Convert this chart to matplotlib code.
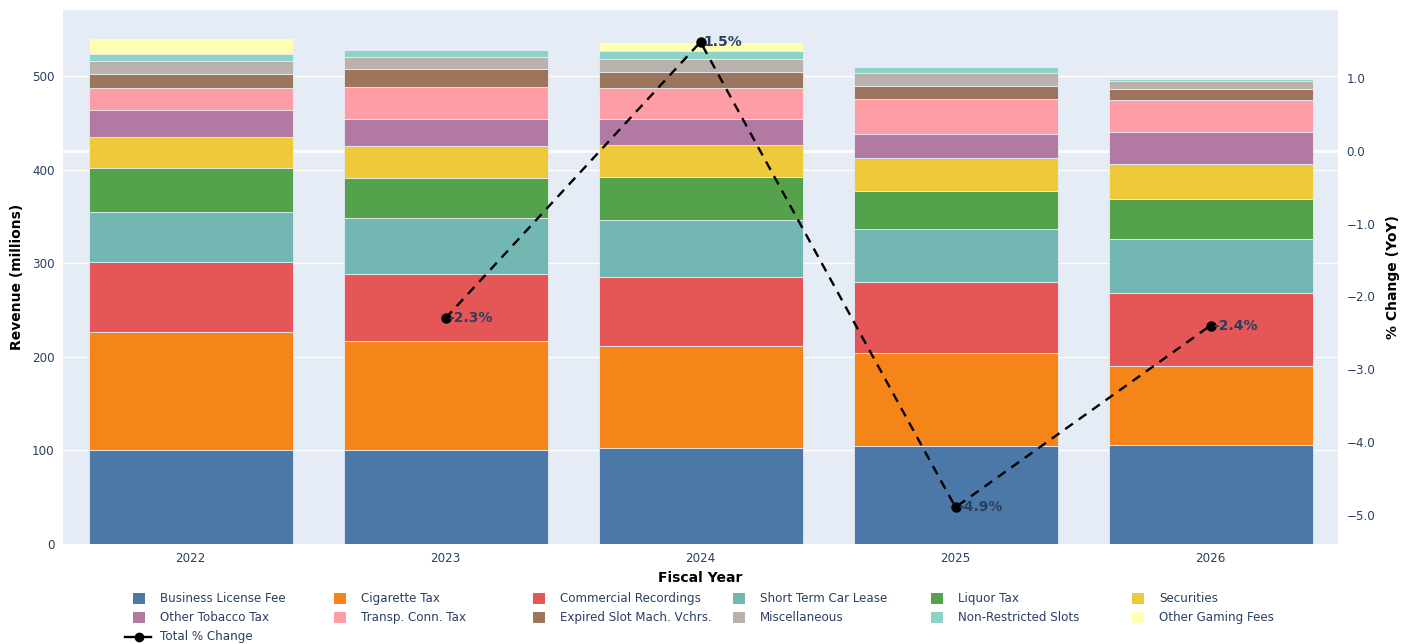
import matplotlib.pyplot as plt
import matplotlib.transforms as mtransforms
from matplotlib.patches import Rectangle
from matplotlib.lines import Line2D
import numpy as np

years = ["2022", "2023", "2024", "2025", "2026"]

# revenue by source, millions
business_license = [100.0, 100.0, 102.5, 104.5, 105.5]
cigarette_tax = [126.5, 117.0, 109.0, 99.5, 84.5]
commercial_rec = [74.5, 71.5, 74.0, 76.0, 78.5]
short_term_car = [54.0, 59.5, 61.0, 57.0, 57.5]
liquor_tax = [47.0, 43.0, 46.0, 40.0, 43.0]
securities = [33.0, 34.5, 34.0, 35.7, 37.5]
other_tobacco = [29.0, 29.0, 28.0, 25.6, 34.0]
transp_conn = [23.0, 33.5, 32.5, 37.2, 33.5]
expired_slot = [15.5, 19.0, 17.5, 14.2, 12.5]
miscellaneous = [13.5, 13.5, 14.0, 13.3, 8.5]
non_restricted = [8.0, 7.5, 8.0, 7.0, 2.0]
other_gaming = [17.0, 0.0, 10.0, 0.0, 0.0]

pct_change = [np.nan, -2.3, 1.5, -4.9, -2.4]

series = [
    ("Business License Fee", business_license, "#4C78A8"),
    ("Cigarette Tax", cigarette_tax, "#F58518"),
    ("Commercial Recordings", commercial_rec, "#E45756"),
    ("Short Term Car Lease", short_term_car, "#72B7B2"),
    ("Liquor Tax", liquor_tax, "#54A24B"),
    ("Securities", securities, "#EECA3B"),
    ("Other Tobacco Tax", other_tobacco, "#B279A2"),
    ("Transp. Conn. Tax", transp_conn, "#FF9DA6"),
    ("Expired Slot Mach. Vchrs.", expired_slot, "#9D755D"),
    ("Miscellaneous", miscellaneous, "#BAB0AC"),
    ("Non-Restricted Slots", non_restricted, "#8DD3C7"),
    ("Other Gaming Fees", other_gaming, "#FFFFB3"),
]

plt.rcParams['font.family'] = ['DejaVu Sans']
text_col = "#2a3f5f"
W, H = 1409, 644

fig = plt.figure(figsize=(W / 100, H / 100), dpi=100)
ax = fig.add_axes([63 / W, 100 / H, 1275 / W, 534 / H])
ax.set_facecolor("#E5ECF6")
for s in ax.spines.values():
    s.set_visible(False)

x = np.arange(len(years))
bottom = np.zeros(len(years))
for name, vals, col in series:
    ax.bar(x, vals, 0.8, bottom=bottom, color=col, edgecolor="#E5ECF6",
           linewidth=0.6, zorder=2)
    bottom += np.array(vals)

ax.set_xlim(-0.5, len(years) - 0.5)
ax.set_ylim(0, 570.5)
ax.set_yticks([0, 100, 200, 300, 400, 500])
ax.set_xticks(x)
ax.set_xticklabels(years)
ax.grid(axis="y", color="white", linewidth=1, zorder=0)
ax.set_axisbelow(True)
ax.tick_params(axis="both", length=0, labelsize=8.6, labelcolor=text_col, pad=6)
ax.set_ylabel("Revenue (millions)", fontsize=10, fontweight="bold", labelpad=6)
ax.set_xlabel("Fiscal Year", fontsize=10, fontweight="bold", labelpad=4)

ax2 = ax.twinx()
for s in ax2.spines.values():
    s.set_visible(False)
ax2.set_ylim(-5.405, 1.94)
ax2.set_yticks([1.0, 0.0, -1.0, -2.0, -3.0, -4.0, -5.0])
ax2.set_yticklabels(["1.0", "0.0", "\u22121.0", "\u22122.0", "\u22123.0",
                     "\u22124.0", "\u22125.0"])
ax2.tick_params(axis="y", length=0, labelsize=8.6, labelcolor=text_col, pad=6)
ax2.set_ylabel("% Change (YoY)", fontsize=10, fontweight="bold", labelpad=8)

# zero line of the secondary axis, drawn under the bars
trans = mtransforms.blended_transform_factory(ax.transAxes, ax2.transData)
ax.plot([0, 1], [0, 0], transform=trans, color="white", linewidth=2, zorder=1)

ax2.plot(x, pct_change, color="black", linestyle=(0, (4, 3)), linewidth=1.7,
         marker="o", markersize=6.5, zorder=5)
for xi, v in zip(x, pct_change):
    if np.isnan(v):
        continue
    ax2.annotate(f"{v:.1f}%", (xi, v), xytext=(2, 0), textcoords="offset points",
                 ha="left", va="center", fontsize=10, fontweight="bold",
                 color=text_col, zorder=6)

# legend, laid out row by row like the original
col_x = [139, 340, 539, 739, 937, 1138]
row_y = [598.5, 617.5, 636.5]
for i, (name, vals, col) in enumerate(series):
    cx = col_x[i % 6]
    cy = row_y[i // 6]
    fig.add_artist(Rectangle(((cx - 6) / W, 1 - (cy + 5.5) / H), 12 / W, 11 / H,
                             transform=fig.transFigure, facecolor=col,
                             edgecolor="none"))
    fig.text((cx + 21) / W, 1 - cy / H, name, fontsize=8.6, color=text_col,
             ha="left", va="center")

cx, cy = col_x[0], row_y[2]
fig.add_artist(Line2D([(cx - 14) / W, (cx + 12) / W], [1 - cy / H, 1 - cy / H],
                      transform=fig.transFigure, color="black", linewidth=1.7))
fig.add_artist(Line2D([cx / W], [1 - cy / H], transform=fig.transFigure,
                      color="black", marker="o", markersize=6))
fig.text((cx + 21) / W, 1 - cy / H, "Total % Change", fontsize=8.6,
         color=text_col, ha="left", va="center")

fig.savefig("out.png", dpi=100)
